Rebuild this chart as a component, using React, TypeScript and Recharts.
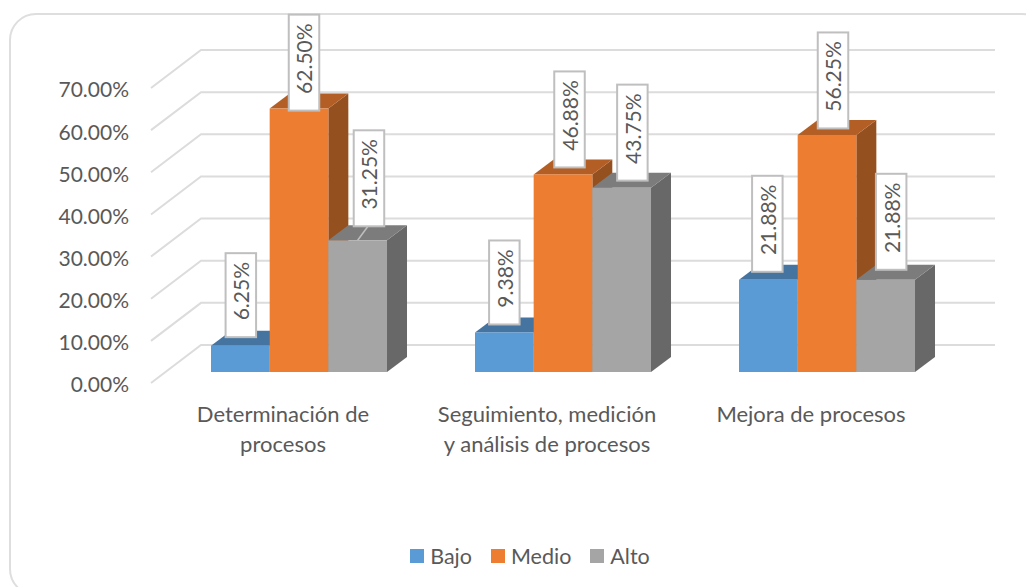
import { Bar, BarChart, CartesianGrid, LabelList, Legend, Text, XAxis, YAxis } from 'recharts'

const FONT = 'Lato, sans-serif'
const TEXT_COLOR = '#595959'
const LABEL_SIZE = 21.5
const CATEGORY_SIZE = 22
const VALUE_SIZE = 21

const categoryLines = [
  ['Determinación de', 'procesos'],
  ['Seguimiento, medición', 'y análisis de procesos'],
  ['Mejora de procesos'],
]
const bajo = [6.25, 9.38, 21.88]
const medio = [62.5, 46.88, 56.25]
const alto = [31.25, 43.75, 21.88]
const yTicks = [0, 10, 20, 30, 40, 50, 60, 70]

const rows = categoryLines.map((lines, i) => ({ name: lines.join(' '), bajo: bajo[i], medio: medio[i], alto: alto[i] }))

// 3D look: bars stand on a plane lifted off the axis plane, the wall sits further back
const BAR_SHIFT = { x: 16, y: -11 }
const BAR_DEPTH = { x: 20, y: -15 }
const WALL = { x: 50, y: -38 }

// hand placed data labels, [dx from bar centre, dy from bar top]
const bajoNudge = [[0.5, -8.5], [0, -8], [-1, -8]]
const medioNudge = [[5, 2], [6.5, -7], [6, -6.5]]
const altoNudge = [[11.3, -14], [10.7, -7], [5.5, -10]]

function makeBar(topColor: string, sideColor: string) {
  return function Bar3D(props: any) {
    const { x, y, width, height, fill } = props
    const left = x + BAR_SHIFT.x
    const right = left + width
    const top = y + BAR_SHIFT.y
    const bottom = top + height
    const dx = BAR_DEPTH.x
    const dy = BAR_DEPTH.y
    return (
      <g>
        <path d={`M${right} ${top}L${right + dx} ${top + dy}L${right + dx} ${bottom + dy}L${right} ${bottom}Z`} fill={sideColor} />
        <path d={`M${left} ${top}L${left + dx} ${top + dy}L${right + dx} ${top + dy}L${right} ${top}Z`} fill={topColor} />
        <rect x={left} y={top} width={width} height={height} fill={fill} />
      </g>
    )
  }
}

function makeLabel(nudge: number[][]) {
  return function ValueBox(props: any) {
    const { viewBox, value, index } = props
    const box = viewBox ?? props
    const text = `${Number(value).toFixed(2)}%`
    const barTop = box.y + BAR_SHIFT.y
    const barCentre = box.x + BAR_SHIFT.x + box.width / 2
    const cx = barCentre + nudge[index][0]
    const bottom = barTop + nudge[index][1]
    const boxHeight = text.length > 5 ? 96 : 84
    // the text sits a little above the middle of its box
    const cy = bottom - boxHeight / 2 - 4
    return (
      <g>
        {nudge[index][1] < -12 && (
          <line x1={cx - 1} y1={bottom} x2={barCentre} y2={barTop} stroke="#bfbfbf" strokeWidth={1.5} />
        )}
        <rect x={cx - 15.25} y={bottom - boxHeight} width={30.5} height={boxHeight} fill="#fff" stroke="#bfbfbf" strokeWidth={2} />
        <text
          x={cx}
          y={cy}
          transform={`rotate(-90 ${cx} ${cy})`}
          textAnchor="middle"
          dominantBaseline="central"
          fontFamily={FONT}
          fontSize={VALUE_SIZE}
          fill={TEXT_COLOR}
        >
          {text}
        </text>
      </g>
    )
  }
}

function WallLine(props: any) {
  const { x1, x2, y1, key } = props
  return (
    <path
      key={key}
      d={`M${x1} ${y1}L${x1 + WALL.x} ${y1 + WALL.y}L${x2 + 52} ${y1 + WALL.y}`}
      fill="none"
      stroke="#dcdcdc"
      strokeWidth={2}
    />
  )
}

function CategoryTick({ x, y, index }: any) {
  return (
    <g>
      {categoryLines[index].map((line, i) => (
        <Text
          key={line}
          x={x}
          y={y + 15 + i * 30}
          textAnchor="middle"
          verticalAnchor="start"
          style={{ fontFamily: FONT, fontSize: CATEGORY_SIZE }}
          fill={TEXT_COLOR}
        >
          {line}
        </Text>
      ))}
    </g>
  )
}

function LegendRow({ payload }: any) {
  return (
    <div style={{ display: 'flex', justifyContent: 'center', gap: 19, fontFamily: FONT, fontSize: LABEL_SIZE, color: TEXT_COLOR }}>
      {payload.map((item: any) => (
        <span key={item.value} style={{ display: 'flex', alignItems: 'center', gap: 6 }}>
          <span style={{ width: 14, height: 14, background: item.color, display: 'inline-block' }} />
          {item.value}
        </span>
      ))}
    </div>
  )
}

export default function App() {
  return (
    <div style={{ position: 'absolute', left: 0, top: 0, width: 1026, height: 587, overflow: 'hidden', background: '#fff' }}>
      <div
        style={{
          position: 'absolute',
          left: 9,
          top: 13,
          width: 1040,
          height: 583,
          border: '2px solid #dedede',
          borderRadius: 27,
          boxSizing: 'border-box',
        }}
      />
      <BarChart
        width={1026}
        height={587}
        data={rows}
        margin={{ top: 88, right: 83, bottom: 0, left: 0 }}
        barSize={58.67}
        barGap={0}
        style={{ position: 'absolute', left: 0, top: 0 }}
      >
        <CartesianGrid vertical={false} horizontal={WallLine} />
        <XAxis
          dataKey="name"
          height={204}
          axisLine={false}
          tickLine={false}
          interval={0}
          tick={CategoryTick}
        />
        <YAxis
          width={151}
          domain={[0, 70]}
          ticks={yTicks}
          axisLine={false}
          tickLine={false}
          tickSize={0}
          tickMargin={22}
          tickFormatter={(v: number) => `${v.toFixed(2)}%`}
          tick={{ fontSize: VALUE_SIZE, fontFamily: FONT, fill: TEXT_COLOR, dy: 2 }}
        />
        <Legend
          layout="horizontal"
          verticalAlign="middle"
          itemSorter={null}
          content={LegendRow}
          wrapperStyle={{ top: 543, left: 0, width: 1060 }}
        />
        <Bar dataKey="bajo" name="Bajo" fill="#5B9BD5" isAnimationActive={false} shape={makeBar('#44749F', '#39618A')}>
          <LabelList dataKey="bajo" content={makeLabel(bajoNudge)} />
        </Bar>
        <Bar dataKey="medio" name="Medio" fill="#ED7D31" isAnimationActive={false} shape={makeBar('#B25E25', '#95501F')}>
          <LabelList dataKey="medio" content={makeLabel(medioNudge)} />
        </Bar>
        <Bar dataKey="alto" name="Alto" fill="#A5A5A5" isAnimationActive={false} shape={makeBar('#7C7C7C', '#686868')}>
          <LabelList dataKey="alto" content={makeLabel(altoNudge)} />
        </Bar>
      </BarChart>
    </div>
  )
}
